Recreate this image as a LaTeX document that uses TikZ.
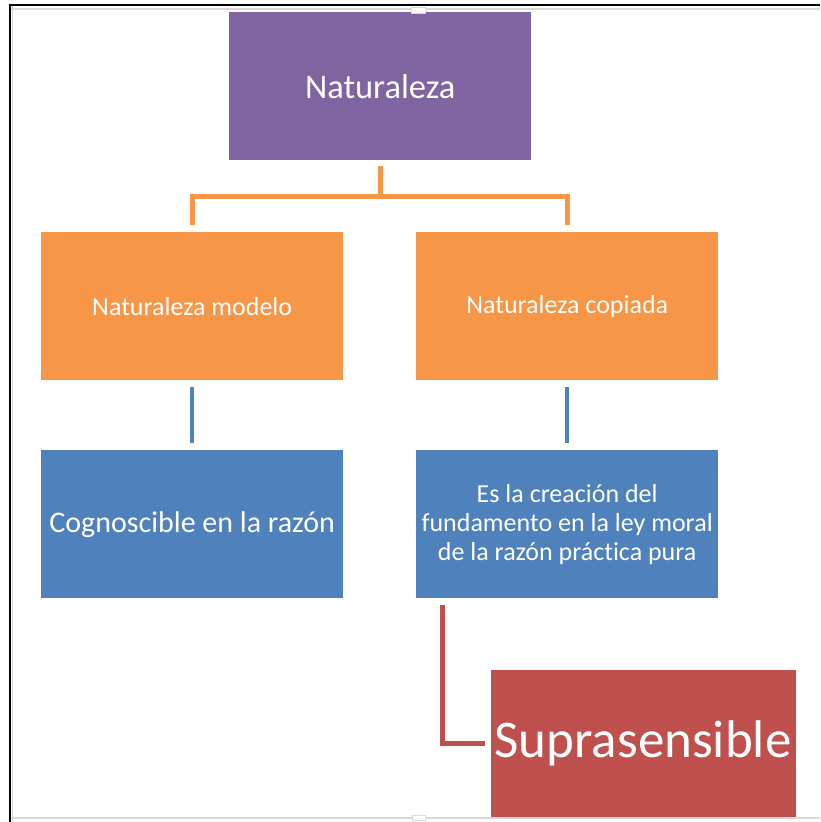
\documentclass[tikz,border=0pt]{standalone}
\usepackage{fontspec}
\setmainfont{Carlito}[Ligatures={NoCommon,NoContextual}]
\definecolor{cpurple}{HTML}{8064A2}
\definecolor{corange}{HTML}{F79646}
\definecolor{cblue}{HTML}{4F81BD}
\definecolor{cred}{HTML}{C0504D}
\definecolor{cframe}{HTML}{D9D9D9}
\begin{document}
\begin{tikzpicture}[x=1pt,y=-1pt,
  box/.style={minimum width=302pt,minimum height=148pt,inner sep=0pt,
    text=white,align=center,anchor=north west},
  orangeline/.style={draw=corange,line width=5pt},
  blueline/.style={draw=cblue,line width=4pt},
  redline/.style={draw=cred,line width=5pt}]
\useasboundingbox (0,0) rectangle (820,822);
\fill[white] (0,0) rectangle (820,822);
% boxes
\node[box,fill=cpurple,font=\fontsize{34.5}{40}\selectfont] (nat) at (229,12) {Naturaleza};
\node[box,fill=corange,font=\fontsize{26}{30}\selectfont] (mod) at (41,232) {Naturaleza modelo};
\node[box,fill=corange,font=\fontsize{26}{30}\selectfont] (cop) at (416,232) {Naturaleza copiada};
\node[box,fill=cblue,font=\fontsize{30}{36}\selectfont] (cog) at (41,450) {Cognoscible en la razón};
\node[box,fill=cblue,font=\fontsize{26}{29}\selectfont] (cre) at (416,450) {Es la creación del\\fundamento en la ley moral\\de la razón práctica pura};
\node[minimum width=305pt,minimum height=147pt,inner sep=0pt,fill=cred,anchor=north west] (sup) at (491,670) {};
\node[text=white,font=\fontsize{53}{60}\selectfont,inner sep=0pt] (suptext) at (643,743) {Suprasensible};
% connectors
\coordinate (natb) at ([yshift=-6pt]nat.south);
\coordinate (modt) at ([yshift=7pt]mod.north);
\coordinate (copt) at ([yshift=7pt]cop.north);
\draw[orangeline] (natb) -- ++(0,30) -| (modt);
\draw[orangeline] (natb) -- ++(0,30) -| (copt);
\draw[blueline] ([yshift=-7pt]mod.south) -- ([yshift=7pt]cog.north);
\draw[blueline] ([yshift=-7pt]cop.south) -- ([yshift=7pt]cre.north);
\coordinate (crel) at ([xshift=26pt,yshift=-7pt]cre.south west);
\coordinate (supl) at ([xshift=-6pt]sup.west |- suptext);
\draw[redline] (crel) |- (supl);
% frame
\draw[cframe,line width=2pt] (10,9) -- (820,9);
\draw[cframe,line width=2pt] (10,818) -- (820,818);
\draw[cframe,line width=1pt] (12.5,6) -- (12.5,822);
\draw[black,line width=2pt] (9,5) -- (820,5);
\draw[black,line width=2.5pt] (10,4) -- (10,822);
\draw[draw=cframe,fill=white,line width=0.8pt] (411,7) rectangle (425,13);
\draw[draw=cframe,fill=white,line width=0.8pt] (412,815) rectangle (425,820);
\end{tikzpicture}
\end{document}
